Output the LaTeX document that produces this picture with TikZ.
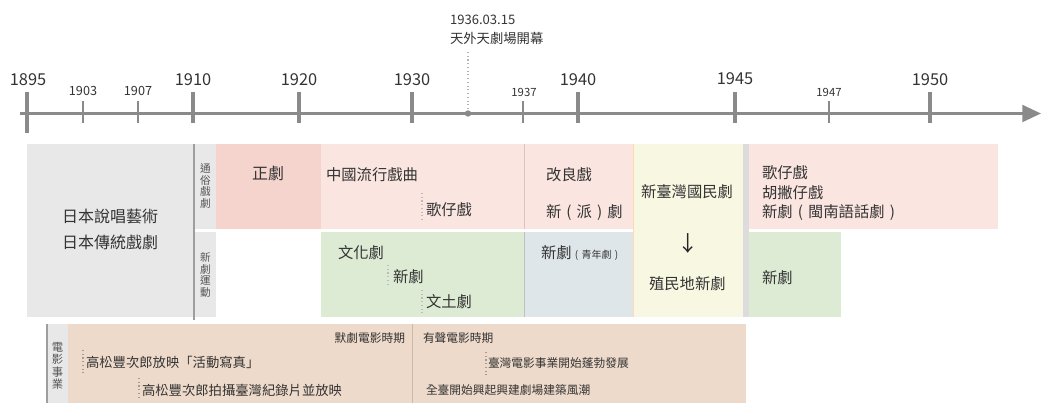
\documentclass[tikz,border=0pt]{standalone}
\usepackage{fontspec}
\setmainfont{Noto Sans CJK TC}
\usetikzlibrary{arrows.meta}
\definecolor{axisgray}{HTML}{8A8A8A}
\definecolor{textc}{HTML}{333333}
\definecolor{vtextc}{HTML}{555555}
\definecolor{boxgray}{HTML}{E8E8E8}
\definecolor{pinkdark}{HTML}{F6D4CE}
\definecolor{pinklight}{HTML}{FAE5E0}
\definecolor{greenl}{HTML}{DDEBD5}
\definecolor{bluel}{HTML}{DFE6EA}
\definecolor{yellowl}{HTML}{F8F7E2}
\definecolor{sepgray}{HTML}{DCDCDC}
\definecolor{filmc}{HTML}{EEDACA}
\definecolor{dotc}{HTML}{BBBBBB}
\newcommand{\fwl}{\makebox[1em][c]{(}}
\newcommand{\fwr}{\makebox[1em][c]{)}}
\begin{document}
\begin{tikzpicture}[x=0.75pt,y=-0.75pt,
  every node/.style={inner sep=0pt,outer sep=0pt,text=textc},
  bigyear/.style={font=\fontsize{12.3}{12.3}\selectfont},
  smallyear/.style={font=\fontsize{9.5}{9.5}\selectfont},
  tinyyear/.style={font=\fontsize{8.5}{8.5}\selectfont},
  lab/.style={font=\fontsize{11.5}{11.5}\selectfont,anchor=west},
  jplab/.style={font=\fontsize{12}{12}\selectfont},
  vlab/.style={font=\fontsize{8}{8.6}\selectfont,align=center,text=vtextc},
  filmlab/.style={font=\fontsize{10}{10}\selectfont,anchor=west},
  filmsmall/.style={font=\fontsize{8.8}{8.8}\selectfont},
  majortick/.style={draw=axisgray,line width=3.2pt},
  minortick/.style={draw=axisgray,line width=1.6pt},
  guide/.style={draw=dotc,line width=0.8pt,dotted},
]
\useasboundingbox (0,0) rectangle (1041,403);

% ---------- boxes ----------
\fill[boxgray] (27,144) rectangle (193,317);
\fill[boxgray] (195,144) rectangle (216,229);
\fill[boxgray] (195,232) rectangle (216,317);
\draw[draw=black!38,line width=1.5pt] (193.5,144) -- (193.5,320);
\fill[pinkdark] (216,144) rectangle (321,229);
\fill[pinklight] (321,144) rectangle (998,229);
\fill[greenl] (321,232) rectangle (525,317);
\fill[bluel] (525,232) rectangle (633,317);
\draw[draw=pinkdark!70!black,line width=0.75pt,opacity=0.4] (524.5,144) -- (524.5,229);
\draw[draw=black!25,line width=0.75pt] (524.5,232) -- (524.5,317);
\fill[yellowl] (633,144) rectangle (743,317);
\draw[draw=orange!30,line width=0.75pt] (633.5,144) -- (633.5,317);
\fill[sepgray] (743,144) rectangle (749,317);
\fill[greenl] (749,232) rectangle (841,317);

\fill[boxgray] (47,324) rectangle (68,403);
\draw[draw=black!38,line width=1.5pt] (46.5,324) -- (46.5,403);
\fill[filmc] (68,324) rectangle (746,403);
\draw[draw=filmc!85!black,line width=0.75pt] (412.5,324) -- (412.5,403);

% ---------- axis ----------
\coordinate (axstart) at (20,113.5);
\coordinate (axend) at (1041,113.5);
\draw[draw=axisgray,line width=2.3pt,-{Triangle[length=14pt,width=12.5pt]}] (axstart) -- (axend);
\draw[majortick] (27,92) -- (27,133);
\foreach \x in {193,299,412,578,735,930} \draw[majortick] (\x,92) -- (\x,123);
\foreach \x in {83,138,523,829} \draw[minortick] (\x,101) -- (\x,123);

\node[bigyear] (y1895) at (28,80) {1895};
\node[smallyear] (y1903) at (83,91) {1903};
\node[smallyear] (y1907) at (138,91) {1907};
\node[bigyear] (y1910) at (193,80) {1910};
\node[bigyear] (y1920) at (299,80) {1920};
\node[bigyear] (y1930) at (412,80) {1930};
\node[tinyyear] (y1937) at (524,92) {1937};
\node[bigyear] (y1940) at (578,80) {1940};
\node[bigyear] (y1945) at (735,79) {1945};
\node[tinyyear] (y1947) at (829,92) {1947};
\node[bigyear] (y1950) at (930,80) {1950};

\node[font=\fontsize{9.8}{9.8}\selectfont,anchor=west] (evdate) at (450,20) {1936.03.15};
\node[font=\fontsize{10}{10}\selectfont,anchor=west] (evname) at (450,38) {天外天劇場開幕};
\coordinate (evtop) at (468,52);
\coordinate (evdot) at (468,113.5);
\draw[draw=black!30,line width=0.8pt,dotted] (evtop) -- (evdot);
\fill[axisgray] (evdot) circle (3.2);

% ---------- texts ----------
\node[jplab] (jp1) at (110,217) {日本說唱藝術};
\node[jplab] (jp2) at (110,242) {日本傳統戲劇};
\node[vlab] (v1) at (205.5,186) {通\\俗\\戲\\劇};
\node[vlab] (v2) at (205.5,275) {新\\劇\\運\\動};
\node[jplab] (zhengju) at (268,173) {正劇};
\node[lab] (zhongguo) at (326,175) {中國流行戲曲};
\node[lab] (gezai1) at (426,210) {歌仔戲};
\node[lab] (gailiang) at (546,175) {改良戲};
\node[lab] (xinpai) at (546,213) {新\fwl 派\fwr 劇};
\node[lab] (guomin) at (641,192) {新臺灣國民劇};
\node[font=\fontsize{16}{16}\selectfont,text=black!85] (arr) at (688,243) {↓};
\node[lab] (zhimin) at (649,284) {殖民地新劇};
\node[lab] (gezai2) at (762,173) {歌仔戲};
\node[lab] (hupie) at (762,193) {胡撇仔戲};
\node[lab] (minnan) at (762,213) {新劇\fwl 閩南語話劇\fwr};
\node[lab] (xinju3) at (762,278) {新劇};
\node[lab] (wenhua) at (338,253) {文化劇};
\node[lab] (xinju1) at (393,277) {新劇};
\node[lab] (wentu) at (426,302) {文土劇};
\node[lab] (xinju2) at (541,253) {新劇{\fontsize{7.5}{7.5}\selectfont\fwl 青年劇\fwr}};

\draw[guide] (422,193) -- (422,220);
\draw[guide] (388,265) -- (388,287);
\draw[guide] (422,290) -- (422,313);

% ---------- film ----------
\node[font=\fontsize{8.5}{9.2}\selectfont,align=center,text=vtextc] (film) at (57.5,366) {電\\影\\事\\業};
\node[filmsmall,anchor=east] (mo) at (405,338) {默劇電影時期};
\node[filmsmall,anchor=west] (yousheng) at (423,338) {有聲電影時期};
\node[filmlab] (gs1) at (86,362) {高松豐次郎放映「活動寫真」};
\node[filmlab] (gs2) at (142,390) {高松豐次郎拍攝臺灣紀錄片並放映};
\node[filmsmall,anchor=west] (tw) at (488,363) {臺灣電影事業開始蓬勃發展};
\node[filmsmall,anchor=west] (qt) at (426,390) {全臺開始興起興建劇場建築風潮};
\draw[guide,draw=filmc!70!black] (83,350) -- (83,373);
\draw[guide,draw=filmc!70!black] (139,378) -- (139,400);
\draw[guide,draw=filmc!70!black] (486,352) -- (486,377);
\end{tikzpicture}
\end{document}
